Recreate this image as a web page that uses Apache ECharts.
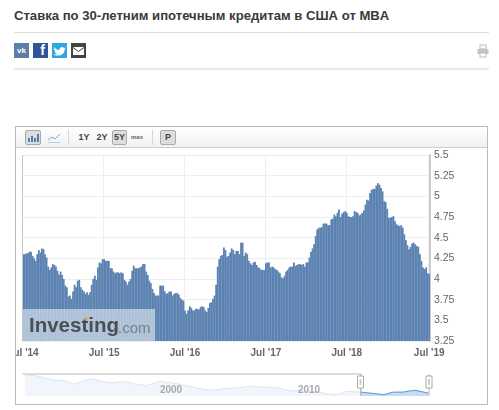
<!DOCTYPE html>
<html>
<head>
<meta charset="utf-8">
<script src="https://cdn.jsdelivr.net/npm/echarts@6/dist/echarts.min.js"></script>
<style>
    html,body{margin:0;padding:0;background:#fff;width:499px;height:410px;overflow:hidden;font-family:"Liberation Sans",Arial,sans-serif;}
    .abs{position:absolute;box-sizing:border-box;}
    #title{left:14px;top:7px;font-size:13.1px;font-weight:bold;color:#3a3a3a;white-space:nowrap;line-height:18px;}
    #rule{left:14px;top:32px;width:475px;height:1px;background:#ddd;}
    #shadow{left:14px;top:68px;width:475px;height:3px;background:linear-gradient(#ddd,#fff);}
    .ico{top:43px;width:15px;height:15px;color:#fff;font-weight:bold;text-align:center;line-height:15px;overflow:hidden;}
    #panel{left:15px;top:126px;width:473px;height:279px;border:1px solid #bbb;}
    #bar{left:16px;top:127px;width:471px;height:21px;background:linear-gradient(#fff,#f1f1f1);border-bottom:1px solid #ccc;}
    .btn{top:130px;height:15px;font-size:9px;font-weight:bold;color:#444;text-align:center;line-height:15px;}
    .on{background:#ddd;border:1px solid #aaa;border-radius:2px;line-height:13px;}
    .sep{top:130px;width:1px;height:15px;background:#d5d5d5;}
    #echart{left:16px;top:148px;width:471px;height:255px;}
</style>
</head>
<body>
<div class="abs" id="title">Ставка по 30-летним ипотечным кредитам в США от MBA</div>
<div class="abs" id="rule"></div>
<div class="abs ico" style="left:14px;background:#5b7fa8;font-size:8px">vk</div>
<div class="abs ico" style="left:33px;background:#2f5597;font-size:14px;text-align:right;padding-right:3px">f</div>
<div class="abs ico" style="left:52px;background:#2ca7e0">
    <svg width="15" height="15" viewBox="0 0 15 15"><path d="M2 4c2 2 3 3 5.500 3 0-3 3-4 4.500-2l1.500-.5-1 1.500 1-.2-1 1.200c0 4-4 6-8 5.500-1-.1-2-.5-3-1 1.500 0 2.500-.3 3.500-1-1.500-.2-2-1-2.500-2h1.200C2.500 8 2 7 2 6l1 .3C2 5.500 1.700 5 2 4z" fill="#fff"/></svg>
</div>
<div class="abs ico" style="left:71px;background:#444">
    <svg width="15" height="15" viewBox="0 0 15 15"><rect x="2" y="4" width="11" height="8" fill="#fff"/><path d="M2 4.500l5.500 4 5.500-4" fill="none" stroke="#444"/></svg>
</div>
<svg class="abs" style="left:477px;top:44px" width="12" height="14" viewBox="0 0 12 14"><rect x="3" y="1" width="6" height="4" fill="none" stroke="#bbb"/><rect x="0.500" y="5" width="11" height="5" fill="#c4c4c4"/><rect x="3" y="9" width="6" height="4" fill="#fff" stroke="#bbb"/></svg>
<div class="abs" id="shadow"></div>

<div class="abs" id="panel"></div>
<div class="abs" id="bar"></div>
<div class="abs btn on" style="left:25px;width:16px">
    <svg width="14" height="13" viewBox="0 0 14 13"><path d="M3 11V7M6 11V5M9 11V7M12 11V3" stroke="#4d7fb0" stroke-width="2"/></svg>
</div>
<svg class="abs" style="left:47px;top:132px" width="14" height="12" viewBox="0 0 14 12"><path d="M1 8l4-3 3 2 5-5" fill="none" stroke="#7ea6d3"/><path d="M1 10.500h12" stroke="#b9cde3"/></svg>
<div class="abs sep" style="left:68px"></div>
<div class="abs btn" style="left:77px;width:14px">1Y</div>
<div class="abs btn" style="left:95px;width:14px">2Y</div>
<div class="abs btn on" style="left:112px;width:15px">5Y</div>
<div class="abs btn" style="left:130px;width:14px;font-size:6px;color:#666">max</div>
<div class="abs sep" style="left:152px"></div>
<div class="abs btn on" style="left:160px;width:16px">P</div>
<div class="abs" id="echart"></div>

<script>
// недельные значения ставки, июль 2014 - июль 2019
var rates = [
    4.30,4.30,4.31,4.31,4.33,4.33,4.28,4.25,4.22,4.30,
    4.35,4.32,4.37,4.36,4.30,4.26,4.15,4.11,4.14,4.18,
    4.17,4.15,4.10,4.05,4.09,4.05,4.00,3.92,3.90,3.79,
    3.80,3.76,3.85,3.93,3.90,3.98,3.99,3.90,3.87,3.85,
    3.82,3.84,3.81,3.84,3.93,4.00,4.04,3.99,4.14,4.20,
    4.19,4.24,4.24,4.22,4.22,4.22,4.13,4.13,4.09,4.07,
    4.08,4.08,4.07,4.08,4.07,3.99,3.97,3.93,3.97,4.00,
    4.10,4.16,4.13,4.13,4.13,4.14,4.15,4.18,4.18,4.09,
    4.05,3.98,3.95,3.88,3.83,3.80,3.80,3.80,3.92,3.92,
    3.92,3.85,3.82,3.83,3.85,3.85,3.80,3.82,3.83,3.83,
    3.81,3.77,3.75,3.74,3.62,3.58,3.62,3.67,3.65,3.62,
    3.62,3.64,3.64,3.63,3.66,3.67,3.66,3.62,3.60,3.65,
    3.71,3.72,3.76,3.80,3.93,4.15,4.24,4.28,4.29,4.38,
    4.35,4.27,4.28,4.32,4.37,4.35,4.30,4.34,4.34,4.30,
    4.44,4.44,4.28,4.32,4.30,4.22,4.19,4.17,4.20,4.21,
    4.17,4.14,4.13,4.11,4.11,4.11,4.19,4.20,4.20,4.14,
    4.15,4.14,4.12,4.11,4.09,4.07,4.02,4.01,4.04,4.09,
    4.11,4.14,4.15,4.15,4.20,4.16,4.17,4.18,4.18,4.17,
    4.18,4.15,4.20,4.20,4.26,4.33,4.37,4.42,4.52,4.60,
    4.62,4.62,4.63,4.67,4.67,4.67,4.65,4.65,4.72,4.73,
    4.78,4.76,4.80,4.84,4.75,4.79,4.81,4.82,4.80,4.76,
    4.75,4.75,4.76,4.82,4.81,4.80,4.77,4.78,4.80,4.83,
    4.90,4.96,4.95,5.04,5.08,5.09,5.09,5.13,5.16,5.14,
    5.10,5.06,4.94,4.93,4.85,4.74,4.74,4.75,4.76,4.70,
    4.66,4.65,4.64,4.65,4.62,4.54,4.47,4.41,4.36,4.39,
    4.43,4.44,4.42,4.40,4.39,4.30,4.22,4.14,4.12,4.14,
    4.07,4.06
];
var xTickIndex = [0,52,104,156,208,261];
var xTickLabels = ["Jul '14","Jul '15","Jul '16","Jul '17","Jul '18","Jul '19"];
var yMin = 3.25, yMax = 5.5, yStep = 0.25;

// навигатор: вся история, год и ставка
var navYears = [1989.8,1990.5,1991.2,1992,1992.7,1993.4,1994,1994.6,1995.4,1996.1,1997,1998,1998.8,1999.7,2000.7,2001.6,2002.6,2003.6,2004.5,2005.5,2006.5,2007.5,2008.4,2009.3,2010.3,2011.3,2012.7,2013.5,2014.5,2014.9,2016.2,2016.9,2017.6,2018.5,2019.5];
var navRates = [10.5,10.5,9.6,8.7,8.7,7.3,8.3,9.3,8.3,7.7,8.3,7.3,6.8,8.3,7.7,6.8,5.7,5.1,5.7,6.0,6.6,6.1,6.0,4.8,5.1,4.4,3.4,4.7,4.4,4.2,3.5,4.4,4.4,5.1,4.0];
var navStart = 2014.5;

var categories = [];
for (var i = 0; i < rates.length; i++) {
    categories.push(new Date(Date.UTC(2014, 6, 4 + 7 * i)).toISOString().slice(0, 10));
}
var navAll = navYears.map(function (y, i) { return [y, navRates[i]]; });
var navSel = navAll.filter(function (p) { return p[0] >= navStart; });

var font = '"Liberation Sans",Arial,sans-serif';

function handle(x) {
    return [
        {type:'line', shape:{x1:x,y1:226,x2:x,y2:248}, style:{stroke:'#bbb'}, z:20},
        {type:'rect', shape:{x:x-3,y:228,width:6,height:12}, style:{fill:'#fff',stroke:'#aaa'}, z:21},
        {type:'rect', shape:{x:x-1,y:231,width:2,height:6}, style:{fill:'#ccc'}, z:22}
    ];
}
function navLabel(text, x) {
    return {type:'text', x:x, y:237, style:{text:text, font:'bold 10px '+font, fill:'#aaa', textAlign:'center'}, z:18};
}

var option = {
    animation:false,
    textStyle:{fontFamily:font},
    grid:[
        {left:6.5, right:57, top:7, height:186, outerBoundsMode:'none'},
        {left:6.5, right:57, top:226, height:22, outerBoundsMode:'none'}
    ],
    xAxis:[
        {
            type:'category', gridIndex:0, data:categories,
            axisLine:{show:false}, axisTick:{show:false},
            axisLabel:{
                color:'#666', fontSize:10, fontWeight:'bold', margin:7, hideOverlap:false,
                interval:function(idx){ return xTickIndex.indexOf(idx) >= 0; },
                formatter:function(v, idx){ return xTickLabels[xTickIndex.indexOf(idx)] || ''; }
            },
            splitLine:{show:true, lineStyle:{color:'#eee'},
                interval:function(idx){ return xTickIndex.indexOf(idx) >= 0; }}
        },
        {
            type:'value', gridIndex:1, min:1989.6, max:2019.6,
            axisLine:{show:false}, axisTick:{show:false}, splitLine:{show:false}, axisLabel:{show:false}
        }
    ],
    yAxis:[
        {
            type:'value', gridIndex:0, position:'right', min:yMin, max:yMax, interval:yStep,
            axisLine:{show:true, lineStyle:{color:'#ccc', width:2}}, axisTick:{show:false},
            axisLabel:{color:'#666', fontSize:10.5, margin:4},
            splitLine:{lineStyle:{color:'#eee'}}
        },
        {
            type:'value', gridIndex:1, min:3, max:11,
            axisLine:{show:false}, axisTick:{show:false}, axisLabel:{show:false}, splitLine:{show:false}
        }
    ],
    series:[
        {
            type:'bar', xAxisIndex:0, yAxisIndex:0, data:rates,
            barWidth:1.8, barGap:0, itemStyle:{color:'#5b82b1'}
        },
        {
            type:'line', xAxisIndex:1, yAxisIndex:1, data:navAll, symbol:'none',
            lineStyle:{color:'#dbe6f2', width:1}, areaStyle:{color:'#f1f6fc', opacity:1}
        },
        {
            type:'line', xAxisIndex:1, yAxisIndex:1, data:navSel, symbol:'none',
            lineStyle:{color:'#5b97d8', width:1}, areaStyle:{color:'#c9ddf2', opacity:1}
        }
    ],
    graphic:[
        // линия оси слева и подложка логотипа
        {type:'line', shape:{x1:6.5,y1:7,x2:6.5,y2:193}, style:{stroke:'#c4c4c4',lineWidth:1}, z:10},
        {type:'rect', shape:{x:7,y:161,width:132,height:32}, style:{fill:'rgba(255,255,255,0.5)'}, z:10},
        {type:'text', x:13, y:168, style:{text:'Investing', font:'bold 20.5px '+font, fill:'#4a4f55'}, z:11},
        {type:'text', x:102, y:173, style:{text:'.com', font:'15px '+font, fill:'#7a7f84'}, z:11},
        {type:'circle', shape:{cx:70,cy:171,r:1.8}, style:{fill:'#e2a63c'}, z:12},
        navLabel('2000', 155),
        navLabel('2010', 293),
        // рамка навигатора
        {type:'polyline', shape:{points:[[6.5,226],[345,226],[345,248]]}, style:{stroke:'#bbb',fill:null}, z:19}
    ].concat(handle(344.5), handle(413))
};
echarts.init(document.getElementById('echart')).setOption(option);
</script>
</body>
</html>
